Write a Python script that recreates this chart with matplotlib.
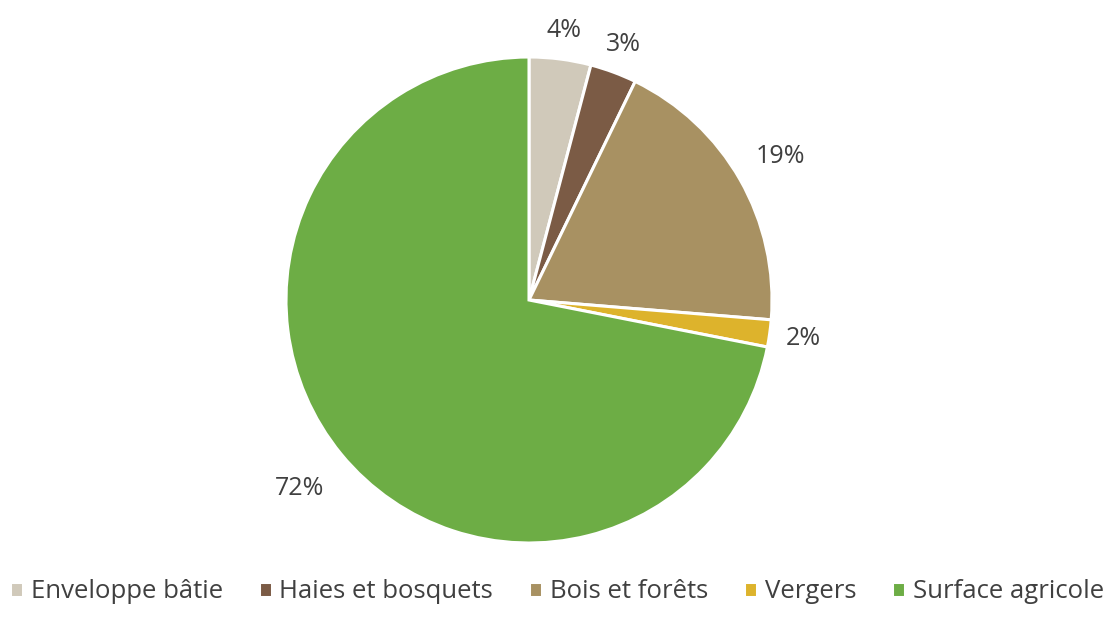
import numpy as np
import matplotlib.pyplot as plt

labels = ['Enveloppe bâtie', 'Haies et bosquets', 'Bois et forêts', 'Vergers', 'Surface agricole']
values = [4.1, 3.1, 19.1, 1.8, 71.9]
colors = ['#D0C9BA', '#7B5B45', '#A89162', '#DDB32C', '#6DAD45']
# how far out each percentage label sits (in pie radii)
label_dist = [1.12, 1.12, 1.19, 1.14, 1.22]

plt.rcParams['font.family'] = ['Open Sans', 'DejaVu Sans']

W, H = 1114, 618
fig = plt.figure(figsize=(W / 100, H / 100), dpi=100)
cx, cy, r = 529, 318, 243
half = 1.2 * r
ax = fig.add_axes([(cx - half) / W, (cy - half) / H, 2 * half / W, 2 * half / H])

wedges, texts, autotexts = ax.pie(values, colors=colors, startangle=90, counterclock=False,
                                  autopct='%.0f%%', pctdistance=1.17,
                                  wedgeprops=dict(edgecolor='white', linewidth=2.2),
                                  textprops=dict(color='#404040', fontsize=18))
for w, t, d in zip(wedges, autotexts, label_dist):
    ang = np.deg2rad((w.theta1 + w.theta2) / 2)
    t.set_position((d * np.cos(ang), d * np.sin(ang)))

ax.set_xlim(-1.2, 1.2)
ax.set_ylim(-1.2, 1.2)
ax.set_aspect('equal')

fig.legend(wedges, labels, loc='center', bbox_to_anchor=(0.5, (H - 592) / H),
           ncol=5, frameon=False, fontsize=18.5, handlelength=0.5, handleheight=0.5,
           handletextpad=0.3, columnspacing=1.4, labelcolor='#404040')

fig.savefig('out.png', dpi=100)
